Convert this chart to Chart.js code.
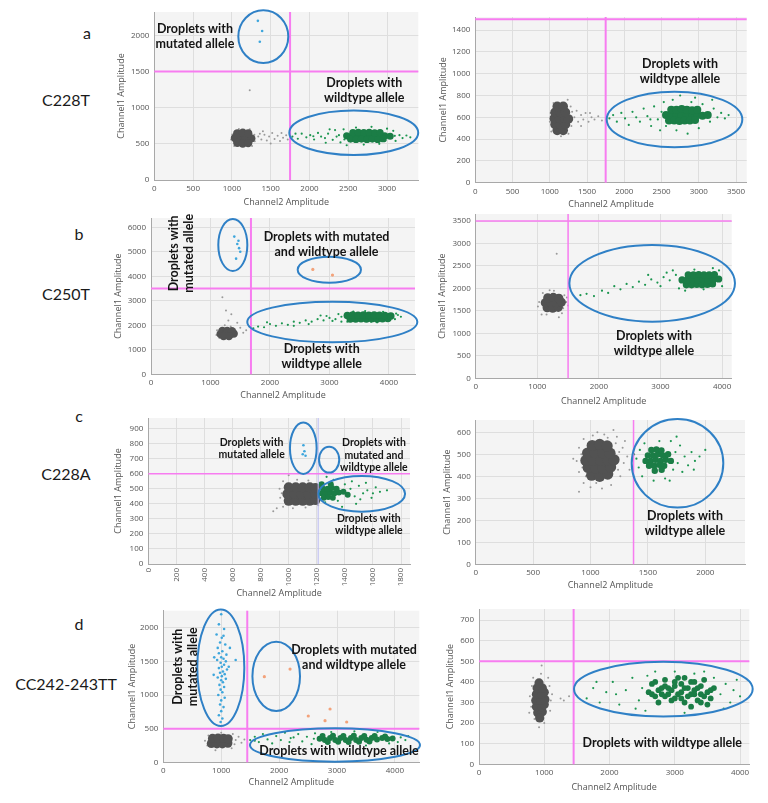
<!DOCTYPE html>
<html><head><meta charset="utf-8">
<script src="https://cdn.jsdelivr.net/npm/chart.js@4.4.0/dist/chart.umd.min.js"></script>
<style>
html,body{margin:0;padding:0;background:#fff;}
body{width:768px;height:803px;position:relative;overflow:hidden;}
canvas{position:absolute;}
.lbl{position:absolute;font-family:Lato,"Open Sans",sans-serif;font-size:16px;color:#1a1a1a;transform:translate(-50%,-50%);white-space:nowrap;}
</style></head><body>
<div class="lbl" style="left:87px;top:32px">a</div>
<div class="lbl" style="left:66px;top:99px">C228T</div>
<div class="lbl" style="left:79px;top:233px">b</div>
<div class="lbl" style="left:66px;top:293px">C250T</div>
<div class="lbl" style="left:79px;top:415px">c</div>
<div class="lbl" style="left:66px;top:473px">C228A</div>
<div class="lbl" style="left:79px;top:623px">d</div>
<div class="lbl" style="left:66px;top:683px">CC242-243TT</div>
<script>
// ---------------- DATA (Channel2 amplitude, Channel1 amplitude) ----------------
// a - C228T (left)
const aL_xTicks=[0,500,1000,1500,2000,2500,3000];
const aL_yTicks=[0,500,1000,1500,2000];
const aL_grayCore=[[1040,580],[1110,580],[1180,580],[1250,575],[1070,515],[1140,505],[1210,510],[1070,645],[1140,655],[1210,645]];
const aL_graySpread=[[990,560],[1005,630],[1290,625],[1295,535],[1030,470],[1260,470],[1090,705],[1230,700],[1340,600],[1380,560],[1420,625],[1450,545],[1480,600],[1520,650],[1550,565],[1590,610],[1620,540],[1660,585],[1700,620],[1720,560],[1400,675],[1500,505],[1360,640],[1640,650],[1230,1240]];
const aL_greenCore=[[2480,610],[2550,610],[2620,610],[2690,610],[2760,610],[2830,610],[2900,610],[2970,610],[3040,605],[2530,565],[2600,560],[2670,565],[2740,560],[2810,565],[2880,560],[2950,570],[2560,655],[2630,660],[2700,655],[2770,660],[2840,650],[2910,655]];
const aL_greenSpread=[[1780,600],[1850,570],[1900,640],[1960,590],[2010,620],[2060,560],[2110,650],[2150,600],[2200,580],[2240,640],[2300,555],[2330,690],[2400,520],[2380,620],[2440,700],[2480,480],[3080,680],[3110,540],[3160,620],[3200,580],[3250,615],[3300,590],[2600,725],[2700,490],[2800,735],[2900,500],[3000,710],[2210,515],[2980,545],[2260,700],[1820,640],[2050,605],[2350,600],[2450,560],[3100,610]];
const aL_blue=[[1335,2200],[1390,2060],[1360,1910]];
const aL_ellipses=[[1405,1982,322,364],[2571,653,831,307]];
const aL_labels=[["Droplets with\nmutated allele",524,1978],["Droplets with\nwildtype allele",2706,1241]];

// a - C228T (right)
const aR_xTicks=[0,500,1000,1500,2000,2500,3000,3500];
const aR_yTicks=[0,200,400,600,800,1000,1200,1400];
const aR_grayCore=[[1100,480],[1180,480],[1070,535],[1140,535],[1210,535],[1060,590],[1130,590],[1200,590],[1250,585],[1070,645],[1140,645],[1210,645],[1100,700],[1180,700]];
const aR_graySpread=[[1000,560],[1010,640],[1290,520],[1300,650],[1050,730],[1210,720],[1150,425],[1250,450],[1330,600],[1380,560],[1420,620],[1450,580],[1480,640],[1520,560],[1560,600],[1600,580],[1650,610],[1700,570],[1420,520],[1360,660],[1240,760],[1020,470],[1540,640],[1280,700]];
const aR_greenCore=[[2560,620],[2630,620],[2700,620],[2770,620],[2840,620],[2910,620],[2980,620],[3050,615],[3120,620],[2600,570],[2670,570],[2740,565],[2810,570],[2880,570],[2950,575],[2630,670],[2700,670],[2770,675],[2840,670],[2910,665],[2980,670]];
const aR_greenSpread=[[1800,590],[1850,620],[1900,560],[1960,640],[2010,590],[2060,530],[2110,650],[2160,600],[2210,560],[2260,680],[2310,610],[2360,520],[2400,700],[2450,580],[2480,480],[2530,740],[2560,520],[2650,760],[2700,480],[2750,800],[2850,450],[2900,740],[3000,500],[3050,720],[3150,560],[3200,680],[3250,600],[3300,640],[3350,590],[3400,620],[3180,760],[2500,650],[2350,580],[2950,780]];
const aR_ellipses=[[2674,580,910,255]];
const aR_labels=[["Droplets with\nwildtype allele",2748,1023]];

// b - C250T (left)
const bL_xTicks=[0,1000,2000,3000,4000];
const bL_yTicks=[0,1000,2000,3000,4000,5000,6000];
const bL_grayCore=[[1170,1640],[1250,1630],[1330,1640],[1390,1660],[1200,1770],[1280,1770],[1360,1760],[1220,1560],[1310,1560]];
const bL_graySpread=[[1200,3150],[1260,2600],[1350,2450],[1300,2200],[1450,2100],[1500,1900],[1600,1800],[1700,1850],[1100,1600],[1110,1800],[1430,1750],[1420,1550],[1150,1480],[1240,2000],[1650,1950],[1550,1700],[1340,1950]];
const bL_greenCore=[[3350,2260],[3440,2260],[3530,2270],[3620,2260],[3710,2270],[3800,2260],[3890,2270],[3980,2280],[3300,2400],[3390,2420],[3480,2410],[3570,2420],[3660,2410],[3750,2420],[3840,2410],[3930,2400],[4030,2380]];
const bL_greenSpread=[[1720,1880],[1800,1950],[1900,1920],[2000,2050],[2100,1980],[2200,2080],[2300,2020],[2400,2150],[2500,2100],[2600,2200],[2700,2150],[2800,2250],[2900,2200],[3000,2300],[3100,2250],[3200,2350],[2650,2050],[2950,2380],[3200,2150],[4150,2420],[4200,2350],[3400,2560],[3700,2150],[3900,2550],[2400,1980],[1950,2120],[2850,2400],[3150,2460],[3300,2150],[4100,2250],[3600,2580],[3800,2120],[4120,2480],[3050,2180]];
const bL_blue=[[1400,5620],[1450,5320],[1480,5150],[1500,5000],[1430,4720],[1470,5450]];
const bL_orange=[[2720,4280],[3050,4050]];
const bL_ellipses=[[1375,5278,244,1061],[2997,4269,532,531],[3047,2135,1429,829]];
const bL_labels=[["Droplets with\nmutated allele",516,4938],["Droplets with mutated\nand wildtype allele",2950,5310],["Droplets with\nwildtype allele",2869,734]];

// b - C250T (right)
const bR_xTicks=[0,1000,2000,3000,4000];
const bR_yTicks=[0,500,1000,1500,2000,2500,3000,3500];
const bR_grayCore=[[1160,1570],[1250,1560],[1340,1580],[1130,1680],[1220,1680],[1310,1680],[1390,1690],[1170,1790],[1260,1800],[1350,1780]];
const bR_graySpread=[[1315,2770],[1070,1420],[1030,1700],[1470,1700],[1440,1850],[1090,1900],[1400,1450],[1500,1620],[1010,1600],[1200,1960],[1350,1360],[1150,1420],[1480,1800],[1270,1950],[1420,1560]];
const bR_greenCore=[[3420,2080],[3505,2080],[3590,2090],[3675,2080],[3760,2090],[3845,2100],[3350,2190],[3435,2190],[3520,2200],[3605,2190],[3690,2200],[3775,2190],[3860,2200],[3945,2210],[3450,2300],[3535,2300],[3620,2310],[3705,2300],[3790,2300],[3875,2310]];
const bR_greenSpread=[[1700,1850],[1800,1880],[1920,1830],[2050,1950],[2150,1900],[2250,2050],[2350,1980],[2450,2100],[2550,2030],[2650,2150],[2750,2080],[2850,2200],[2950,2130],[3050,2250],[3150,2180],[3250,2300],[3000,2050],[3200,2400],[3300,2000],[3950,2400],[4000,2050],[3850,2450],[3550,2420],[3700,1980],[3400,1950],[3900,2300],[3100,2350],[2800,2300]];
const bR_ellipses=[[2865,2114,1344,853]];
const bR_labels=[["Droplets with\nwildtype allele",2894,786]];

// c - C228A (left)
const cL_xTicks=[0,200,400,600,800,1000,1200,1400,1600,1800];
const cL_yTicks=[0,100,200,300,400,500,600,700,800,900];
const cL_grayCore=[[1000,420],[1050,420],[1100,420],[1150,420],[1190,425],[990,465],[1040,465],[1090,465],[1140,465],[1190,465],[1000,510],[1050,510],[1100,510],[1150,510],[1190,505]];
const cL_graySpread=[[960,380],[1030,370],[1120,375],[1210,390],[940,440],[935,500],[960,550],[1060,560],[1140,555],[1220,540],[1245,480],[890,350],[915,370],[1000,590],[950,470],[1230,430]];
const cL_greenCore=[[1230,470],[1262,470],[1294,475],[1326,470],[1358,475],[1245,500],[1277,500],[1309,505],[1341,500],[1250,440],[1282,445],[1314,440],[1390,480],[1420,460],[1235,530],[1300,530]];
const cL_greenSpread=[[1440,500],[1470,450],[1500,520],[1530,470],[1560,490],[1590,440],[1620,510],[1650,480],[1480,400],[1400,530],[1350,420],[1450,550],[1380,380],[1550,540],[1320,560],[1260,410],[1270,580],[1600,470],[1510,430],[1700,490]];
const cL_blue=[[1100,730],[1120,720],[1105,790],[1112,750]];
const cL_ellipses=[[1104,770,95,171],[1288,694,72,86],[1520,467,309,119]];
const cL_labels=[["Droplets with\nmutated allele",736,766],["Droplets with\nmutated and\nwildtype allele",1607,723],["Droplets with\nwildtype allele",1571,263]];

// c - C228A (right)
const cR_xTicks=[0,500,1000,1500,2000];
const cR_yTicks=[0,100,200,300,400,500,600];
const cR_grayCore=[[1010,405],[1080,400],[1150,410],[980,440],[1045,436],[1110,436],[1175,442],[960,472],[1025,472],[1090,472],[1155,472],[1205,475],[975,506],[1040,508],[1105,508],[1170,505],[1015,540],[1080,545],[1145,538]];
const cR_graySpread=[[880,470],[900,420],[900,530],[940,370],[1000,350],[1100,345],[1180,360],[1260,400],[1290,460],[1280,530],[1230,580],[1120,590],[1020,585],[940,570],[1320,490],[850,480],[1060,600],[1200,610],[900,330],[1300,560],[1340,430],[920,500],[930,440],[1240,430],[1250,510],[1050,370],[1150,575],[960,400],[1220,550]];
const cR_greenCore=[[1480,470],[1524,470],[1568,475],[1612,470],[1656,475],[1700,470],[1500,495],[1544,495],[1588,500],[1632,495],[1676,500],[1510,448],[1554,448],[1598,452],[1642,448],[1530,520],[1574,522],[1618,518],[1560,425],[1620,430]];
const cR_greenSpread=[[1400,480],[1420,440],[1430,520],[1450,400],[1470,550],[1720,430],[1740,510],[1760,460],[1780,540],[1800,420],[1820,490],[1850,450],[1880,510],[1910,470],[1950,490],[2000,520],[1700,560],[1650,390],[1550,380],[1600,560],[1380,500],[1690,380],[1900,430],[1750,580]];
const cR_ellipses=[[1758,459,399,201]];
const cR_labels=[["Droplets with\nwildtype allele",1823,184]];

// d - CC242-243TT (left)
const dL_xTicks=[0,1000,2000,3000,4000];
const dL_yTicks=[0,500,1000,1500,2000];
const dL_grayCore=[[830,280],[925,275],[1020,275],[1115,285],[850,355],[945,360],[1040,355],[1120,350]];
const dL_graySpread=[[720,320],[760,250],[780,400],[1250,330],[1230,270],[1300,380],[1200,420],[900,180],[1400,340],[1350,290],[1000,440],[1180,210]];
const dL_blue=[[1000,2200],[960,2050],[1050,1980],[920,1900],[1010,1850],[980,1780],[1070,1750],[940,1700],[1020,1650],[960,1620],[1090,1600],[1000,1560],[1040,1540],[930,1520],[1080,1500],[990,1480],[1050,1450],[1010,1420],[960,1400],[1100,1380],[1030,1350],[980,1330],[1060,1310],[1010,1280],[940,1260],[1080,1240],[1000,1220],[1030,1190],[970,1150],[1050,1120],[990,1080],[1020,1040],[950,1000],[1060,960],[1000,920],[980,860],[1040,820],[1000,760],[960,700],[1020,650],[990,600],[1250,1520],[880,1560],[1150,1700],[870,1300],[1130,1420],[1040,1880]];
const dL_orange=[[1745,1272],[2189,1386],[2880,792],[2504,688],[2793,618],[3167,599]];
const dL_greenCore=[[2700,350],[2790,330],[2880,360],[2970,330],[3060,360],[3150,330],[3240,360],[3330,330],[3420,360],[3510,335],[3600,360],[3690,340],[3780,360],[3870,345],[3960,355],[2750,390],[2930,395],[3110,390],[3290,395],[3470,390],[3650,390],[3830,385],[2840,300],[3020,305],[3200,300],[3380,305],[3560,310]];
const dL_greenSpread=[[1500,330],[1580,380],[1650,300],[1720,420],[1800,340],[1880,280],[1950,390],[2030,330],[2100,440],[2180,300],[2250,370],[2330,420],[2400,310],[2480,380],[2560,270],[2620,430],[4100,370],[4180,330],[4230,390],[3700,450],[3300,460],[2900,450],[3500,250],[3900,280],[2200,360],[2600,350],[1580,320],[4050,300]];
const dL_ellipses=[[993,1406,406,866],[1950,1278,411,515],[2965,257,1468,248]];
const dL_labels=[["Droplets with\nmutated allele",380,1420],["Droplets with mutated\nand wildtype allele",3294,1565],["Droplets with wildtype allele",3034,172]];

// d - CC242-243TT (right)
const dR_xTicks=[0,1000,2000,3000,4000];
const dR_yTicks=[0,100,200,300,400,500,600,700];
const dR_grayCore=[[900,250],[970,255],[880,280],[960,280],[1000,290],[870,310],[950,310],[1010,315],[880,340],[960,340],[1000,350],[890,370],[970,370],[920,395],[930,225]];
const dR_graySpread=[[780,330],[800,280],[810,380],[1100,310],[1090,260],[1080,380],[850,220],[1000,200],[920,180],[950,440],[1120,340],[1250,320],[1300,310],[1380,330],[830,420],[960,480],[1060,420],[770,250]];
const dR_greenCore=[[2600,350],[2700,330],[2800,370],[2900,340],[3000,380],[3100,350],[3200,370],[3300,340],[3400,380],[3500,350],[3600,370],[2650,390],[2750,300],[2850,410],[2950,310],[3050,420],[3150,300],[3250,400],[3350,310],[3450,410],[3550,320],[2900,370],[3100,390],[3200,330],[3300,360],[3000,320],[2800,340],[3400,340],[3150,420],[3250,280],[2700,400],[3500,290],[2650,340],[2750,360],[2850,330],[2950,360],[3050,340],[3150,370],[3250,340],[3350,370],[3450,330],[3550,360],[3000,400],[3300,400],[2850,380],[3100,320],[3400,300]];
const dR_greenSpread=[[1650,320],[1750,370],[1850,300],[1950,350],[2050,400],[2150,290],[2250,360],[2350,420],[2450,310],[2500,370],[2550,260],[2580,430],[3700,340],[3780,390],[3850,300],[3900,360],[3950,410],[4000,330],[2700,450],[3000,450],[3300,440],[3600,420],[2400,270],[3150,250],[2100,340],[3750,270],[1800,400],[3450,450]];
const dR_ellipses=[[2825,365,1369,133]];
const dR_labels=[["Droplets with wildtype allele",2809,102]];

// ---------------- PANEL LAYOUT / STYLE ----------------
const PINK='#f77cf0';
const panels=[
 {box:[154.3,12,418.3,180],xMax:3403,yMax:2322,xT:aL_xTicks,yT:aL_yTicks,yOff:32,xOff:22,v:1750,h:1500,lw:2,
  gC:aL_grayCore,gS:aL_graySpread,nC:aL_greenCore,nS:aL_greenSpread,blue:aL_blue,orange:[],ell:aL_ellipses,lab:aL_labels,gR:4.2,nR:3.6},
 {box:[475.3,17,746.7,182.7],xMax:3643,yMax:1520,xT:aR_xTicks,yT:aR_yTicks,yOff:31.3,xOff:21.3,v:1750,h:1500,lw:2,
  gC:aR_grayCore,gS:aR_graySpread,nC:aR_greenCore,nS:aR_greenSpread,blue:[],orange:[],ell:aR_ellipses,lab:aR_labels,gR:4.8,nR:4},
 {box:[151,218,415,374.3],xMax:4437,yMax:6380,xT:bL_xTicks,yT:bL_yTicks,yOff:32,xOff:21.4,v:1680,h:3500,lw:2,
  gC:bL_grayCore,gS:bL_graySpread,nC:bL_greenCore,nS:bL_greenSpread,blue:bL_blue,orange:bL_orange,ell:bL_ellipses,lab:bL_labels,rot:[0],gR:4.2,nR:3.8},
 {box:[475.7,214,731.7,378.3],xMax:4156,yMax:3656,xT:bR_xTicks,yT:bR_yTicks,yOff:32.7,xOff:23.4,v:1500,h:3500,lw:1.5,
  gC:bR_grayCore,gS:bR_graySpread,nC:bR_greenCore,nS:bR_greenSpread,blue:[],orange:[],ell:bR_ellipses,lab:bR_labels,gR:4.6,nR:3.6},
 {box:[148.3,418,410,564],xMax:1864,yMax:971,xT:cL_xTicks,yT:cL_yTicks,yOff:29.3,xOff:29,v:1210,vColor:'#b9b9f2',vlw:1,h:600,lw:1.5,rotTicks:true,
  gC:cL_grayCore,gS:cL_graySpread,nC:cL_greenCore,nS:cL_greenSpread,blue:cL_blue,orange:[],ell:cL_ellipses,lab:cL_labels,fs:10.5,lh:12.5,gR:5,nR:3},
 {box:[475.7,420,745,564.3],xMax:2346,yMax:656,xT:cR_xTicks,yT:cR_yTicks,yOff:27.7,xOff:20.7,v:1375,h:null,lw:1.5,
  gC:cR_grayCore,gS:cR_graySpread,nC:cR_greenCore,nS:cR_greenSpread,blue:[],orange:[],ell:cR_ellipses,lab:cR_labels,gR:5.6,nR:3.2},
 {box:[163.3,610.7,419.3,762.3],xMax:4421,yMax:2253,xT:dL_xTicks,yT:dL_yTicks,yOff:30.3,xOff:20.4,v:1450,h:500,lw:2,
  gC:dL_grayCore,gS:dL_graySpread,nC:dL_greenCore,nS:dL_greenSpread,blue:dL_blue,orange:dL_orange,ell:dL_ellipses,lab:dL_labels,rot:[0],gR:4.6,nR:3},
 {box:[479,609,749.3,764.3],xMax:4142,yMax:754,xT:dR_xTicks,yT:dR_yTicks,yOff:28.3,xOff:23.4,v:1450,h:500,lw:2,
  gC:dR_grayCore,gS:dR_graySpread,nC:dR_greenCore,nS:dR_greenSpread,blue:[],orange:[],ell:dR_ellipses,lab:dR_labels,gR:4.6,nR:2.9}
];

const bgPlugin={id:'bg',beforeDraw(chart){const a=chart.chartArea,c=chart.ctx;c.save();c.fillStyle='#f4f4f4';c.fillRect(a.left,a.top,a.right-a.left,a.bottom-a.top);c.restore();}};
function annPlugin(p){return {id:'ann',afterDatasetsDraw(chart){
  const xs=chart.scales.x,ys=chart.scales.y,c=chart.ctx,a=chart.chartArea;
  c.save();
  if(p.v!=null){const X=xs.getPixelForValue(p.v);c.strokeStyle=p.vColor||PINK;c.lineWidth=p.vlw||p.lw;c.beginPath();c.moveTo(X,a.top);c.lineTo(X,a.bottom);c.stroke();}
  if(p.h!=null){const Y=ys.getPixelForValue(p.h);c.strokeStyle=PINK;c.lineWidth=p.lw;c.beginPath();c.moveTo(a.left,Y);c.lineTo(a.right,Y);c.stroke();}
  c.strokeStyle='#2f80c6';c.lineWidth=2;
  p.ell.forEach(([cx,cy,rx,ry])=>{const X=xs.getPixelForValue(cx),Y=ys.getPixelForValue(cy);
    const RX=Math.abs(xs.getPixelForValue(cx+rx)-X),RY=Math.abs(ys.getPixelForValue(cy+ry)-Y);
    c.beginPath();c.ellipse(X,Y,RX,RY,0,0,Math.PI*2);c.stroke();});
  const fs=p.fs||12.5,lh=p.lh||15;
  c.fillStyle='#141414';c.font='bold '+fs+'px Lato, "Open Sans", sans-serif';c.textAlign='center';c.textBaseline='middle';
  p.lab.forEach(([t,x,y],i)=>{const X=xs.getPixelForValue(x),Y=ys.getPixelForValue(y);const lines=t.split('\n');
    c.save();c.translate(X,Y);if(p.rot&&p.rot.includes(i))c.rotate(-Math.PI/2);
    lines.forEach((s,k)=>c.fillText(s,0,(k-(lines.length-1)/2)*lh));c.restore();});
  c.restore();}};}

const pts=a=>a.map(([x,y])=>({x,y}));
panels.forEach(p=>{
  const [l,t,r,b]=p.box;
  const cl=Math.floor(l-p.yOff-5.4), ct=Math.floor(t-16);
  const xH=p.xOff+5.4;
  const cw=Math.ceil(r+12)-cl, ch=Math.ceil(b+xH+2)-ct;
  const yW=l-cl, padT=t-ct, padR=cw-(r-cl), padB=ch-(b-ct)-xH;
  const cv=document.createElement('canvas');
  cv.width=cw;cv.height=ch;cv.style.left=cl+'px';cv.style.top=ct+'px';cv.style.width=cw+'px';cv.style.height=ch+'px';
  document.body.appendChild(cv);
  const ds=[];
  if(p.orange.length)ds.push({data:pts(p.orange),pointRadius:1.6,backgroundColor:'#f3a27a'});
  if(p.blue.length)ds.push({data:pts(p.blue),pointRadius:1.3,backgroundColor:'#3ea6dc'});
  ds.push({data:pts(p.nC),pointRadius:p.nR,backgroundColor:'#1b7d46'});
  ds.push({data:pts(p.nS),pointRadius:1.1,backgroundColor:'#1c9650'});
  ds.push({data:pts(p.gC),pointRadius:p.gR,backgroundColor:'#525252'});
  ds.push({data:pts(p.gS),pointRadius:1,backgroundColor:'#9a9a9a'});
  ds.forEach(d=>{d.borderWidth=0;d.pointBorderWidth=0;d.borderColor='rgba(0,0,0,0)';d.pointBorderColor='rgba(0,0,0,0)';d.pointHoverRadius=0;d.showLine=false;});
  const tickFont={family:'"Open Sans", sans-serif',size:8};
  const titleFont={family:'"Open Sans", sans-serif',size:9};
  const fmt=v=>String(v);
  new Chart(cv,{type:'scatter',data:{datasets:ds},
    options:{responsive:false,animation:false,events:[],devicePixelRatio:1,
      layout:{padding:{left:0,top:padT,right:padR,bottom:padB}},
      plugins:{legend:{display:false},tooltip:{enabled:false}},
      scales:{
        x:{type:'linear',min:0,max:p.xMax,
          afterBuildTicks:s=>{s.ticks=p.xT.map(v=>({value:v}));},
          afterFit:s=>{s.height=xH;},
          grid:{color:'#dedede',drawTicks:false},border:{color:'#a8a8a8'},
          ticks:{font:tickFont,color:'#555',padding:4,autoSkip:false,callback:fmt,
            maxRotation:p.rotTicks?90:0,minRotation:p.rotTicks?90:0},
          title:{display:true,text:'Channel2 Amplitude',color:'#555',font:titleFont,padding:0}},
        y:{type:'linear',min:0,max:p.yMax,
          afterBuildTicks:s=>{s.ticks=p.yT.map(v=>({value:v}));},
          afterFit:s=>{s.width=yW;},
          grid:{color:'#dedede',drawTicks:false},border:{color:'#a8a8a8'},
          ticks:{font:tickFont,color:'#555',padding:5,callback:fmt},
          title:{display:true,text:'Channel1 Amplitude',color:'#555',font:titleFont,padding:0}}
      }},
    plugins:[bgPlugin,annPlugin(p)]});
});
</script>
</body></html>
